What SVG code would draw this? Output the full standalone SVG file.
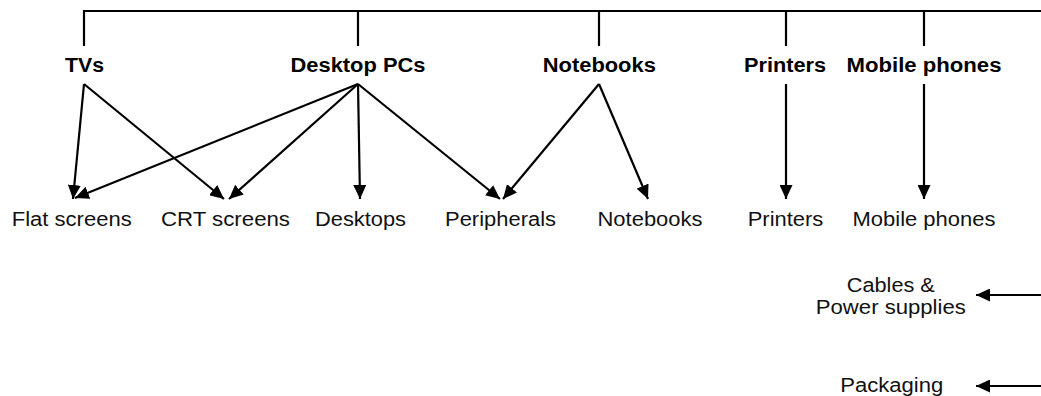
<svg xmlns="http://www.w3.org/2000/svg" width="1041" height="396" viewBox="0 0 1041 396">
  <style>
    .cat { font-family: "Liberation Sans", Arial, sans-serif; font-size: 20px; font-weight: bold; fill: #000; text-anchor: middle; }
    .item { font-family: "Liberation Sans", Arial, sans-serif; font-size: 20px; fill: #111; text-anchor: middle; }
    .wire { stroke: #000; stroke-width: 2.2; fill: none; }
    .arrow { stroke: #000; stroke-width: 2.2; fill: none; marker-end: url(#head); }
  </style>
  <defs>
    <marker id="head" markerUnits="userSpaceOnUse" markerWidth="14" markerHeight="13" refX="14" refY="6.5" orient="auto">
      <path d="M0,0 L14,6.5 L0,13 z" fill="#000"/>
    </marker>
  </defs>

  <rect width="1041" height="396" fill="#fff"/>

  <!-- connectors -->
  <g id="connectors">
    <!-- feed bus and drops to the product categories -->
    <path class="wire" d="M84,46 V11 H1041"/>
    <path class="wire" d="M358,11 V46"/>
    <path class="wire" d="M599,11 V46"/>
    <path class="wire" d="M786,11 V46"/>
    <path class="wire" d="M924,11 V46"/>
    <!-- TVs -->
    <path class="arrow" d="M84,84 L73,199"/>
    <path class="arrow" d="M84,84 L224,199"/>
    <!-- Desktop PCs -->
    <path class="arrow" d="M358,84 L75,198"/>
    <path class="arrow" d="M358,84 L229,199"/>
    <path class="arrow" d="M358,84 L360,199"/>
    <path class="arrow" d="M358,84 L500,199"/>
    <!-- Notebooks -->
    <path class="arrow" d="M599,84 L503,199"/>
    <path class="arrow" d="M599,84 L648,199"/>
    <!-- Printers and mobile phones -->
    <path class="arrow" d="M786,84 V199"/>
    <path class="arrow" d="M924,84 V199"/>
    <!-- side inputs -->
    <path class="arrow" d="M1041,295 H976"/>
    <path class="arrow" d="M1041,386 H976"/>
  </g>

  <!-- product categories -->
  <g id="cat-tvs"><text class="cat" x="84.5" y="72" textLength="39" lengthAdjust="spacingAndGlyphs">TVs</text></g>
  <g id="cat-desktop-pcs"><text class="cat" x="358" y="72" textLength="135" lengthAdjust="spacingAndGlyphs">Desktop PCs</text></g>
  <g id="cat-notebooks"><text class="cat" x="599.3" y="72" textLength="113" lengthAdjust="spacingAndGlyphs">Notebooks</text></g>
  <g id="cat-printers"><text class="cat" x="785" y="72" textLength="82" lengthAdjust="spacingAndGlyphs">Printers</text></g>
  <g id="cat-mobile-phones"><text class="cat" x="924" y="72" textLength="155" lengthAdjust="spacingAndGlyphs">Mobile phones</text></g>

  <!-- fractions -->
  <g id="item-flat-screens"><text class="item" x="71.7" y="226" textLength="120" lengthAdjust="spacingAndGlyphs">Flat screens</text></g>
  <g id="item-crt-screens"><text class="item" x="225.5" y="226" textLength="129" lengthAdjust="spacingAndGlyphs">CRT screens</text></g>
  <g id="item-desktops"><text class="item" x="360.5" y="226" textLength="91" lengthAdjust="spacingAndGlyphs">Desktops</text></g>
  <g id="item-peripherals"><text class="item" x="500.5" y="226" textLength="111" lengthAdjust="spacingAndGlyphs">Peripherals</text></g>
  <g id="item-notebooks"><text class="item" x="650" y="226" textLength="105" lengthAdjust="spacingAndGlyphs">Notebooks</text></g>
  <g id="item-printers"><text class="item" x="785.5" y="226" textLength="75.6" lengthAdjust="spacingAndGlyphs">Printers</text></g>
  <g id="item-mobile-phones"><text class="item" x="924" y="226" textLength="143" lengthAdjust="spacingAndGlyphs">Mobile phones</text></g>

  <g id="item-cables">
    <text class="item" x="890.8" y="292" textLength="88" lengthAdjust="spacingAndGlyphs">Cables &amp;</text>
    <text class="item" x="890.8" y="314" textLength="150" lengthAdjust="spacingAndGlyphs">Power supplies</text>
  </g>
  <g id="item-packaging"><text class="item" x="891.7" y="392" textLength="103" lengthAdjust="spacingAndGlyphs">Packaging</text></g>
</svg>
